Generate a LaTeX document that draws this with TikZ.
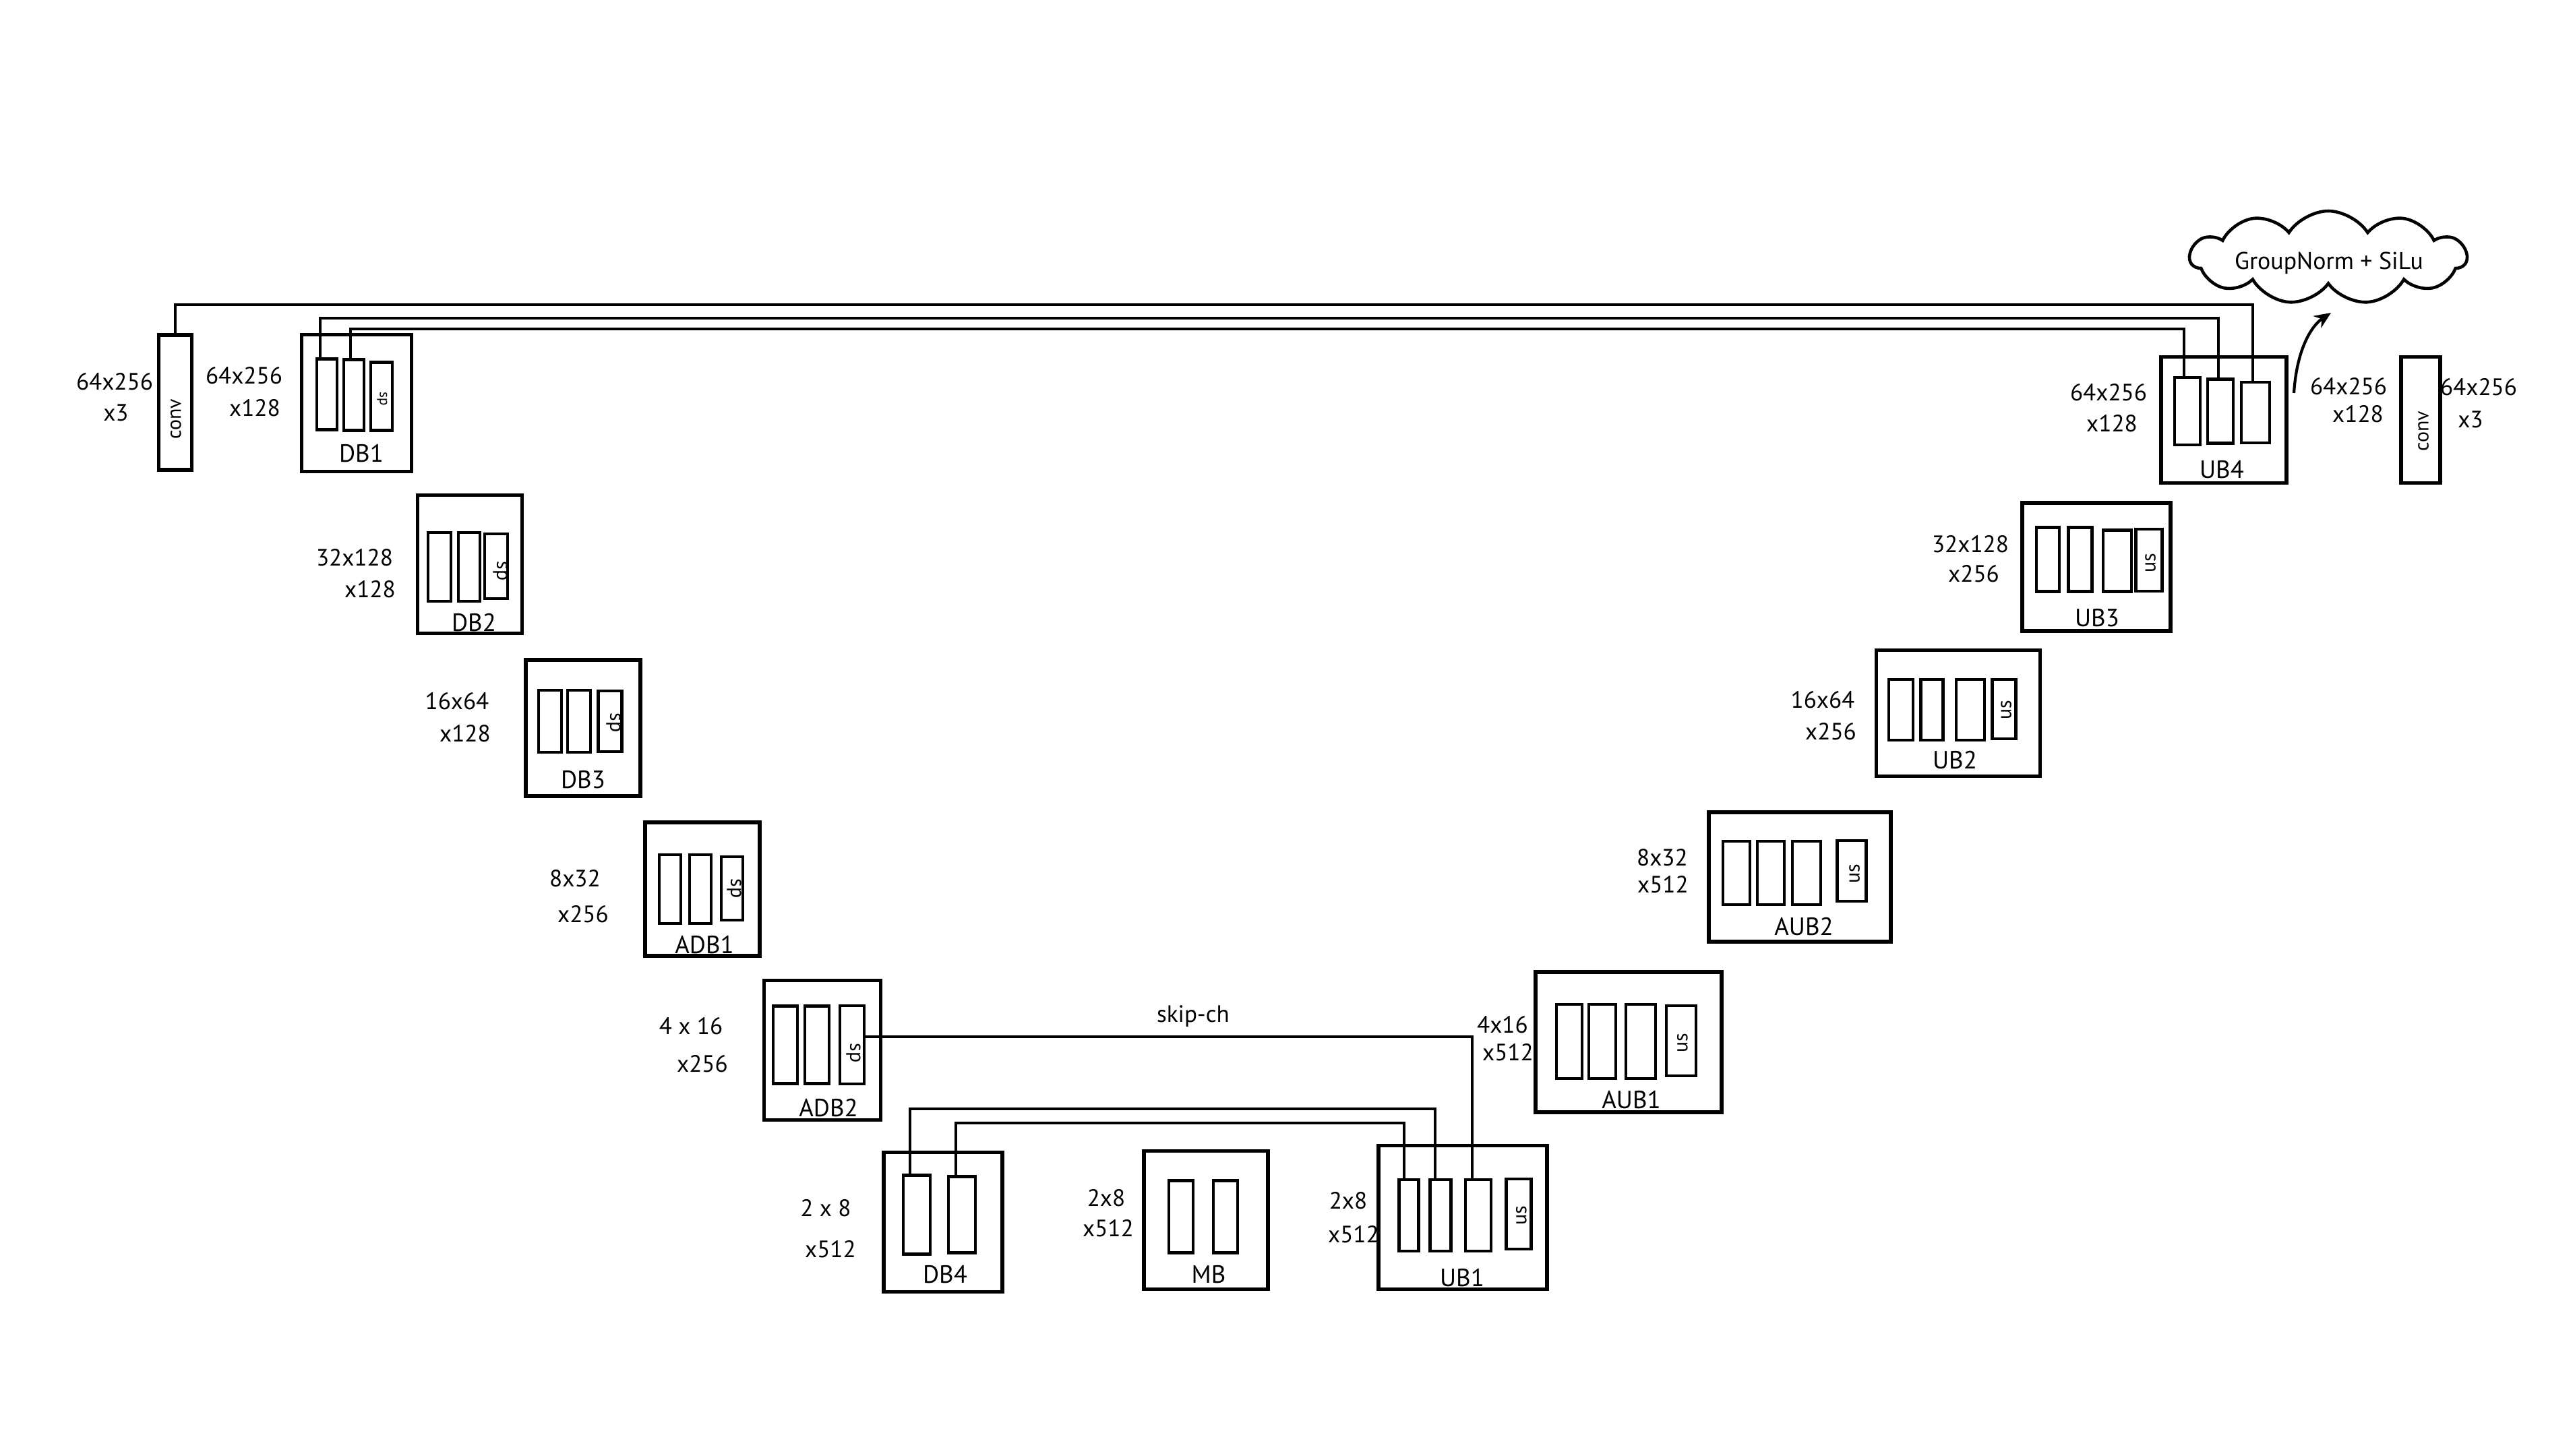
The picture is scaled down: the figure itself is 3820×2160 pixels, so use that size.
\documentclass[tikz,border=0pt]{standalone}
\usepackage{fontspec}
\setmainfont{PT Sans}
\usetikzlibrary{shapes.symbols,arrows.meta}
\begin{document}
\begin{tikzpicture}[x=0.01cm,y=-0.01cm,
  sz/.style 2 args={minimum width=#1*0.01cm, minimum height=#2*0.01cm},
  blk/.style={draw, line width=1.5pt, inner sep=0pt},
  bar/.style={draw, line width=1.4pt, inner sep=0pt},
  dim/.style={font=\fontsize{10}{12}\selectfont, inner sep=0pt},
  bname/.style={font=\fontsize{10.5}{12}\selectfont, inner sep=0pt},
  tag/.style={font=\fontsize{8.5}{10}\selectfont, inner sep=0pt},
  tinytag/.style={font=\fontsize{6}{7}\selectfont, inner sep=0pt},
  link/.style={line width=1.0pt},
]
\useasboundingbox (0,0) rectangle (3820,2160);

% ---------- left conv ----------
\node[blk, sz={49}{200}] (convL) at (260,597) {};
\node[tag, rotate=90] (convLt) at (261,622) {conv};
\node[dim] (lIn1) at (170,566) {64x256};
\node[dim] (lIn2) at (172,612) {x3};
\node[dim] (lC1) at (362,557) {64x256};
\node[dim] (lC2) at (378,605) {x128};

% ---------- DB1 ----------
\node[blk, sz={163}{203}] (db1) at (529,598) {};
\node[bar, sz={30}{105}] (db1a) at (485,585) {};
\node[bar, sz={30}{105}] (db1b) at (525,586) {};
\node[bar, sz={32}{101}] (db1c) at (566,588) {};
\node[tinytag, rotate=-90] (db1t) at (567,592) {sp};
\node[bname] (db1n) at (536,673) {DB1};

% ---------- DB2 ----------
\node[blk, sz={155}{205}] (db2) at (697,837) {};
\node[bar, sz={34}{102}] (db2a) at (652,841) {};
\node[bar, sz={32}{102}] (db2b) at (696,841) {};
\node[bar, sz={34}{96}] (db2c) at (736,840) {};
\node[tag, rotate=-90] (db2t) at (742,847) {sp};
\node[bname] (db2n) at (703,924) {DB2};
\node[dim] (l21) at (526,827) {32x128};
\node[dim] (l22) at (549,874) {x128};

% ---------- DB3 ----------
\node[blk, sz={170}{202}] (db3) at (865,1080) {};
\node[bar, sz={34}{92}] (db3a) at (816,1070) {};
\node[bar, sz={34}{92}] (db3b) at (859,1070) {};
\node[bar, sz={35}{90}] (db3c) at (905,1070) {};
\node[tag, rotate=-90] (db3t) at (910,1072) {sp};
\node[bname] (db3n) at (865,1157) {DB3};
\node[dim] (l31) at (678,1040) {16x64};
\node[dim] (l32) at (690,1088) {x128};

% ---------- ADB1 ----------
\node[blk, sz={170}{198}] (adb1) at (1042,1319) {};
\node[bar, sz={32}{102}] (adb1a) at (994,1319) {};
\node[bar, sz={32}{102}] (adb1b) at (1039,1319) {};
\node[bar, sz={32}{94}] (adb1c) at (1086,1318) {};
\node[tag, rotate=-90] (adb1t) at (1089,1318) {sp};
\node[bname] (adb1n) at (1045,1402) {ADB1};
\node[dim] (l41) at (853,1303) {8x32};
\node[dim] (l42) at (865,1356) {x256};

% ---------- ADB2 ----------
\node[blk, sz={173}{207}] (adb2) at (1220,1558) {};
\node[bar, sz={36}{115}] (adb2a) at (1165,1550) {};
\node[bar, sz={36}{115}] (adb2b) at (1212,1550) {};
\node[bar, sz={36}{116}] (adb2c) at (1264,1550) {};
\node[tag, rotate=-90] (adb2t) at (1266,1562) {sp};
\node[bname] (adb2n) at (1229,1643) {ADB2};
\node[dim] (l51) at (1025,1522) {4 x 16};
\node[dim] (l52) at (1042,1578) {x256};

% ---------- DB4 ----------
\node[blk, sz={176}{207}] (db4) at (1399,1813) {};
\node[bar, sz={40}{117}] (db4a) at (1360,1802) {};
\node[bar, sz={40}{113}] (db4b) at (1427,1802) {};
\node[bname] (db4n) at (1402,1891) {DB4};
\node[dim] (l61) at (1225,1792) {2 x 8};
\node[dim] (l62) at (1232,1853) {x512};

% ---------- MB ----------
\node[blk, sz={184}{205}] (mb) at (1789,1810) {};
\node[bar, sz={36}{107}] (mba) at (1752,1805) {};
\node[bar, sz={36}{107}] (mbb) at (1818,1805) {};
\node[bname] (mbn) at (1793,1891) {MB};
\node[dim] (l71) at (1641,1777) {2x8};
\node[dim] (l72) at (1644,1822) {x512};

% ---------- UB1 ----------
\node[blk, sz={250}{213}] (ub1) at (2170,1806) {};
\node[bar, sz={29}{106}] (ub1a) at (2090,1803) {};
\node[bar, sz={31}{106}] (ub1b) at (2137,1803) {};
\node[bar, sz={38}{106}] (ub1c) at (2193,1803) {};
\node[bar, sz={37}{104}] (ub1d) at (2253,1801) {};
\node[tag, rotate=90] (ub1t) at (2257,1803) {us};
\node[bname] (ub1n) at (2169,1895) {UB1};
\node[dim] (l81) at (2000,1781) {2x8};
\node[dim] (l82) at (2008,1831) {x512};

% ---------- AUB1 ----------
\node[blk, sz={276}{208}] (aub1) at (2416,1546) {};
\node[bar, sz={38}{110}] (aub1a) at (2328,1545) {};
\node[bar, sz={40}{110}] (aub1b) at (2377,1545) {};
\node[bar, sz={44}{110}] (aub1c) at (2434,1545) {};
\node[bar, sz={44}{104}] (aub1d) at (2494,1544) {};
\node[tag, rotate=90] (aub1t) at (2496,1547) {us};
\node[bname] (aub1n) at (2420,1631) {AUB1};
\node[dim] (l91) at (2229,1520) {4x16};
\node[dim] (l92) at (2237,1561) {x512};

% ---------- AUB2 ----------
\node[blk, sz={270}{192}] (aub2) at (2670,1301) {};
\node[bar, sz={40}{94}] (aub2a) at (2576,1295) {};
\node[bar, sz={40}{94}] (aub2b) at (2627,1295) {};
\node[bar, sz={42}{94}] (aub2c) at (2680,1295) {};
\node[bar, sz={43}{90}] (aub2d) at (2747,1292) {};
\node[tag, rotate=90] (aub2t) at (2751,1296) {us};
\node[bname] (aub2n) at (2676,1375) {AUB2};
\node[dim] (l101) at (2466,1272) {8x32};
\node[dim] (l102) at (2467,1312) {x512};

% ---------- UB2 ----------
\node[blk, sz={243}{187}] (ub2) at (2905,1058) {};
\node[bar, sz={36}{90}] (ub2a) at (2820,1053) {};
\node[bar, sz={33}{90}] (ub2b) at (2866,1053) {};
\node[bar, sz={42}{90}] (ub2c) at (2923,1053) {};
\node[bar, sz={35}{88}] (ub2d) at (2973,1052) {};
\node[tag, rotate=90] (ub2t) at (2976,1053) {us};
\node[bname] (ub2n) at (2900,1128) {UB2};
\node[dim] (l111) at (2704,1038) {16x64};
\node[dim] (l112) at (2716,1085) {x256};

% ---------- UB3 ----------
\node[blk, sz={220}{190}] (ub3) at (3110,841) {};
\node[bar, sz={34}{95}] (ub3a) at (3038,830) {};
\node[bar, sz={35}{95}] (ub3b) at (3086,830) {};
\node[bar, sz={42}{91}] (ub3c) at (3141,832) {};
\node[bar, sz={39}{92}] (ub3d) at (3188,831) {};
\node[tag, rotate=90] (ub3t) at (3190,835) {us};
\node[bname] (ub3n) at (3111,917) {UB3};
\node[dim] (l121) at (2923,807) {32x128};
\node[dim] (l122) at (2928,851) {x256};

% ---------- UB4 ----------
\node[blk, sz={186}{187}] (ub4) at (3299,623) {};
\node[bar, sz={38}{100}] (ub4a) at (3245,610) {};
\node[bar, sz={38}{95}] (ub4b) at (3294,610) {};
\node[bar, sz={42}{90}] (ub4c) at (3346,612) {};
\node[bname] (ub4n) at (3296,697) {UB4};
\node[dim] (l131) at (3128,582) {64x256};
\node[dim] (l132) at (3133,628) {x128};

% ---------- right conv ----------
\node[blk, sz={58}{187}] (convR) at (3591,623) {};
\node[tag, rotate=90] (convRt) at (3595,640) {conv};
\node[dim] (r1) at (3484,573) {64x256};
\node[dim] (r2) at (3498,614) {x128};
\node[dim] (r3) at (3677,574) {64x256};
\node[dim] (r4) at (3665,622) {x3};

% ---------- cloud ----------
\node[draw, cloud, cloud puffs=11, cloud puff arc=115,
      line width=1.3pt, inner sep=0pt, sz={410}{138}] (gn) at (3454,382) {};
\node[font=\fontsize{10.2}{12}\selectfont, inner sep=0pt] (gnt) at (3455,390) {GroupNorm + SiLu};
\coordinate (arrS) at (3403,583);
\coordinate (arrE) at (3458,464);
\draw[link, line width=1.2pt, -{Stealth[length=7pt,width=6pt]}]
  (arrS) .. controls (3407,520) and (3428,484) .. (arrE);

% ---------- skip connections ----------
\coordinate (hA) at (0,452);
\coordinate (hB) at (0,472);
\coordinate (hC) at (0,488);
\coordinate (hD) at (0,1645);
\coordinate (hE) at (0,1666);

\coordinate (a0) at (convL.north);
\coordinate (a1) at ([xshift=-0.04cm]ub4c.north);
\coordinate (b0) at ([xshift=-0.1cm]db1a.north);
\coordinate (b1) at ([xshift=-0.03cm]ub4b.north);
\coordinate (c0) at ([xshift=-0.05cm]db1b.north);
\coordinate (c1) at ([xshift=-0.05cm]ub4a.north);
\draw[link, line width=1.2pt] (a0) |- (a1 |- hA) -- (a1);
\draw[link, line width=1.2pt] (b0) |- (b1 |- hB) -- (b1);
\draw[link, line width=1.2pt] (c0) |- (c1 |- hC) -- (c1);

\coordinate (d0) at ([xshift=-0.1cm]db4a.north);
\coordinate (d1) at ([xshift=-0.08cm]ub1b.north);
\coordinate (e0) at ([xshift=-0.09cm]db4b.north);
\coordinate (e1) at ([xshift=-0.07cm]ub1a.north);
\draw[link] (d0) |- (d1 |- hD) -- (d1);
\draw[link] (e0) |- (e1 |- hE) -- (e1);

\coordinate (s0) at ([yshift=0.12cm]adb2c.east);
\coordinate (s1) at ([xshift=-0.09cm]ub1c.north);
\draw[link] (s0) -| (s1);
\node[dim] (skip) at (1770,1508) {skip-ch};

\end{tikzpicture}
\end{document}
